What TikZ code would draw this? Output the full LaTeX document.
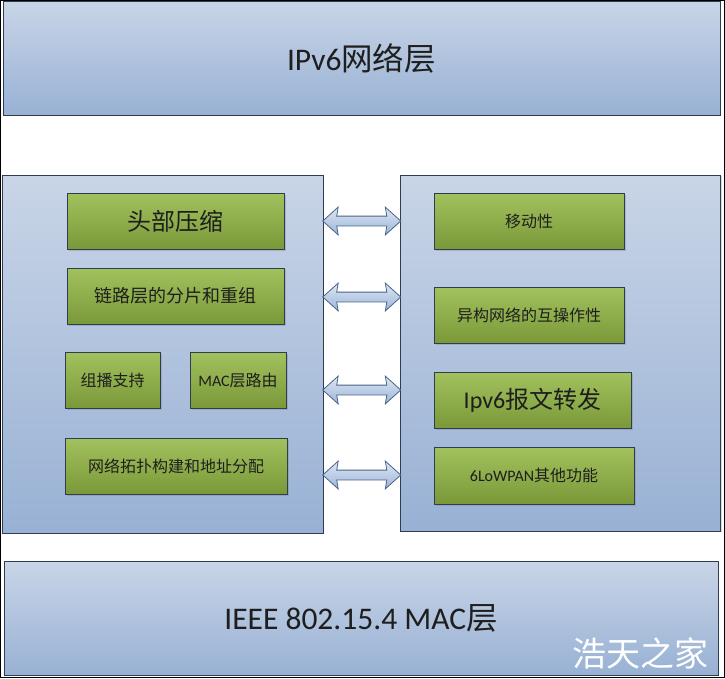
\documentclass[tikz,border=0pt]{standalone}
\usepackage{fontspec}
\setmainfont{Carlito}
\newfontfamily\cjk{Noto Sans CJK SC}
\usetikzlibrary{shapes.arrows,shadows,calc}
\definecolor{paneltop}{HTML}{C9D5E7}
\definecolor{panelbot}{HTML}{98B1D4}
\definecolor{greentop}{HTML}{A2C25E}
\definecolor{greenbot}{HTML}{7A9838}
\definecolor{edgec}{HTML}{2E3D52}
\definecolor{arrowtop}{HTML}{DDE7F3}
\definecolor{arrowbot}{HTML}{9CB4D8}
\definecolor{arrowedge}{HTML}{4A6388}
\definecolor{txt}{HTML}{1E1E1E}

\begin{document}
\begin{tikzpicture}[x=1pt,y=-1pt,
    layer/.style={draw=edgec, line width=1pt, top color=paneltop, bottom color=panelbot,
        inner sep=0pt, text=txt, drop shadow={shadow xshift=1.2pt, shadow yshift=-1.2pt, opacity=.3}},
    func/.style={draw=edgec, line width=1pt, top color=greentop, bottom color=greenbot,
        minimum height=56pt, inner sep=0pt, text=txt,
        drop shadow={shadow xshift=1.5pt, shadow yshift=-1.5pt, opacity=.35}},
    link/.style={double arrow, draw=arrowedge, line width=.8pt, top color=arrowtop, bottom color=arrowbot,
        minimum height=78pt, inner sep=4.5pt, double arrow head extend=9pt,
        double arrow tip angle=84, double arrow head indent=1.5pt}]
    \useasboundingbox (0,0) rectangle (725,678);
    \fill[white] (0,0) rectangle (725,678);

    \node[layer, minimum width=717pt, minimum height=114pt, font=\fontsize{31.5}{36}\selectfont]
        (ipv6) at (361.5,58) {IPv6\cjk 网络层};
    \node[layer, minimum width=321pt, minimum height=358pt] (lpanel) at (162.5,354) {};
    \node[layer, minimum width=320pt, minimum height=356pt] (rpanel) at (560.5,353) {};
    \node[layer, minimum width=714pt, minimum height=114pt, font=\fontsize{31.5}{36}\selectfont]
        (mac) at (361,618) {IEEE 802.15.4 MAC\cjk 层};

    \node[func, minimum width=217pt, font=\cjk\fontsize{24}{28}\selectfont] (hc) at (175.5,221) {头部压缩};
    \node[func, minimum width=217pt, font=\cjk\fontsize{18}{22}\selectfont] (frag) at (175.5,296) {链路层的分片和重组};
    \node[func, minimum width=95pt, font=\cjk\fontsize{16}{20}\selectfont] (mcast) at (112.5,380) {组播支持};
    \node[func, minimum width=96pt, font=\fontsize{16}{20}\selectfont] (route) at (238,380) {MAC\cjk 层路由};
    \node[func, minimum width=222pt, font=\cjk\fontsize{16}{20}\selectfont] (topo) at (176,466) {网络拓扑构建和地址分配};

    \node[func, minimum width=190pt, font=\cjk\fontsize{16}{20}\selectfont] (mob) at (529,221) {移动性};
    \node[func, minimum width=190pt, font=\cjk\fontsize{16}{20}\selectfont] (inter) at (529,315) {异构网络的互操作性};
    \node[func, minimum width=197pt, font=\fontsize{24}{28}\selectfont] (fwd) at (532.5,400) {Ipv6\cjk 报文转发};
    \node[func, minimum width=200pt, minimum height=57pt, font=\fontsize{16}{20}\selectfont] (other) at (534,475.5) {6LoWPAN\cjk 其他功能};

    \coordinate (gap) at ($(lpanel.east)!.5!(rpanel.west)$);
    \node[link] (ar1) at (gap |- 0,221) {};
    \node[link] (ar2) at (gap |- 0,297) {};
    \node[link] (ar3) at (gap |- 0,390) {};
    \node[link] (ar4) at (gap |- 0,475) {};

    \node[text=white, font=\cjk\fontsize{34}{38}\selectfont] (mark) at (640,653) {浩天之家};

    \draw[line width=1pt] (0.5,0.5) rectangle (724.5,677.5);
\end{tikzpicture}
\end{document}
